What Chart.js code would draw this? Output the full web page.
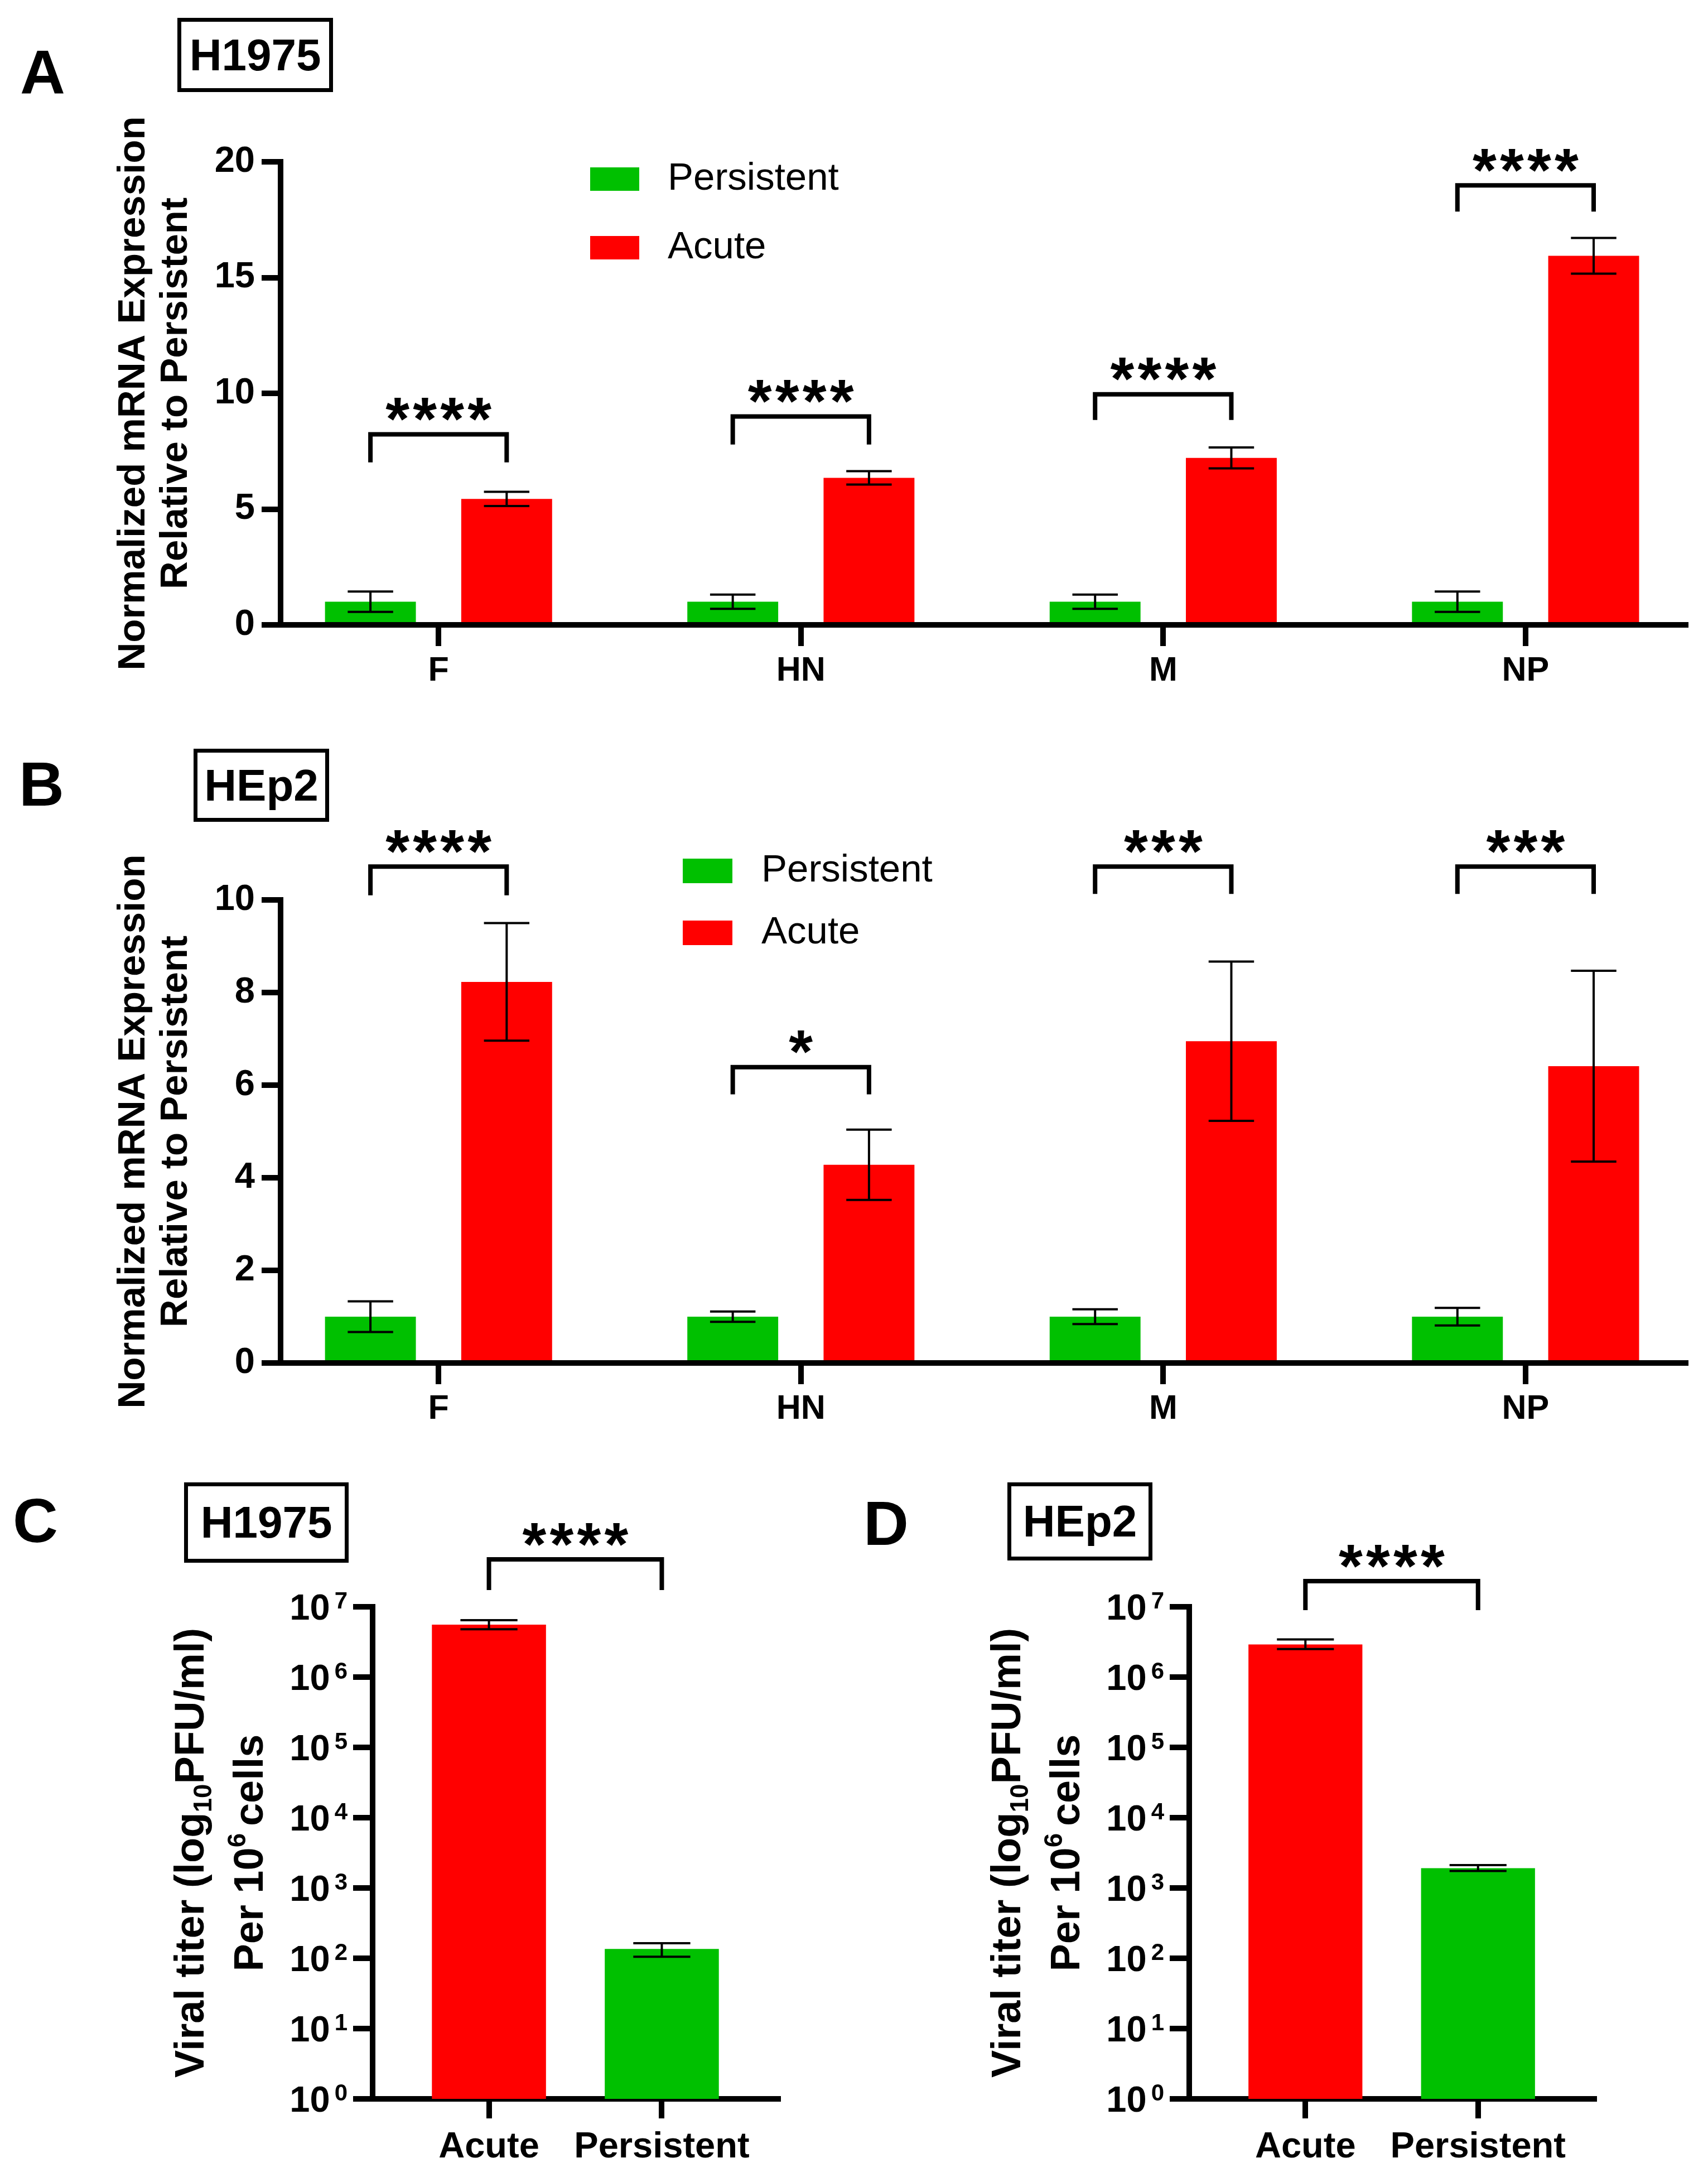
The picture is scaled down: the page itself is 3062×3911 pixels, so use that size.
<!DOCTYPE html>
<html>
<head>
<meta charset="utf-8">
<script src="https://cdn.jsdelivr.net/npm/chart.js@4.4.1/dist/chart.umd.min.js"></script>
<style>
html, body { margin: 0; padding: 0; background: #fff; }
body { width: 3062px; height: 3911px; position: relative; overflow: hidden; font-family: 'Liberation Sans', Arial, sans-serif; color: #000; }
.pane { position: absolute; }
.pane canvas { display: block; }
.letter { position: absolute; font-weight: bold; font-size: 112px; line-height: 1; }
.cell { position: absolute; border: 7px solid #000; box-sizing: border-box; font-weight: bold; font-size: 80px;
        display: flex; align-items: center; justify-content: center; }
</style>
</head>
<body>
<div class="letter" style="left:36px;top:74px">A</div>
<div class="cell" style="left:318px;top:32px;width:279px;height:133px">H1975</div>
<div class="letter" style="left:34px;top:1350px">B</div>
<div class="cell" style="left:347px;top:1342px;width:243px;height:131px">HEp2</div>
<div class="letter" style="left:23px;top:2670px">C</div>
<div class="cell" style="left:330px;top:2657px;width:295px;height:144px">H1975</div>
<div class="letter" style="left:1548px;top:2675px">D</div>
<div class="cell" style="left:1806px;top:2657px;width:260px;height:140px">HEp2</div>

<div class="pane" style="left:0;top:0"><canvas id="chartA" width="3062" height="1290"></canvas></div>
<div class="pane" style="left:0;top:1300px"><canvas id="chartB" width="3062" height="1300"></canvas></div>
<div class="pane" style="left:0;top:2640px"><canvas id="chartC" width="1500" height="1271"></canvas></div>
<div class="pane" style="left:1500px;top:2640px"><canvas id="chartD" width="1562" height="1271"></canvas></div>

<script>
// genes on the x axis of the qPCR panels
const geneLabels = ['F', 'HN', 'M', 'NP'];
const seriesNames = ['Persistent', 'Acute'];

// A: H1975 mRNA, mean and SD
const h1975Persistent = [1.0, 1.0, 1.0, 1.0];
const h1975PersistentSd = [0.44, 0.31, 0.31, 0.44];
const h1975Acute = [5.44, 6.35, 7.21, 15.94];
const h1975AcuteSd = [0.31, 0.29, 0.45, 0.77];
const h1975Stars = ['****', '****', '****', '****'];
const h1975BracketTop = [8.23, 9.0, 9.96, 18.98];
const h1975BracketLeg = [7.02, 7.79, 8.85, 17.85];
const h1975Ticks = [0, 5, 10, 15, 20];

// B: HEp2 mRNA
const hep2Persistent = [1.0, 1.0, 1.0, 1.0];
const hep2PersistentSd = [0.33, 0.11, 0.16, 0.19];
const hep2Acute = [8.23, 4.28, 6.95, 6.41];
const hep2AcuteSd = [1.27, 0.76, 1.72, 2.06];
const hep2Stars = ['****', '*', '***', '***'];
const hep2BracketTop = [10.72, 6.39, 10.72, 10.72];
const hep2BracketLeg = [10.1, 5.8, 10.13, 10.13];
const hep2Ticks = [0, 2, 4, 6, 8, 10];

// C, D: viral titers (PFU/ml per 10^6 cells)
const titerLabels = ['Acute', 'Persistent'];
const h1975Titer = [5.56e6, 136];
const h1975TiterLow = [4.8e6, 105];
const h1975TiterHigh = [6.46e6, 164];
const h1975TiterStars = '****';
const h1975TiterBracket = [4.73e7, 1.73e7];   // top, leg end
const hep2Titer = [2.91e6, 1910];
const hep2TiterLow = [2.5e6, 1745];
const hep2TiterHigh = [3.43e6, 2120];
const hep2TiterStars = '****';
const hep2TiterBracket = [2.32e7, 8.96e6];
const logTicks = [1, 10, 100, 1e3, 1e4, 1e5, 1e6, 1e7];

const GREEN = '#00c000';
const RED = '#ff0000';
const FONT = "'Liberation Sans', Arial, sans-serif";

Chart.defaults.font.family = FONT;
Chart.defaults.color = '#000';

// mean +/- error whiskers, caps half a bar wide
const errorBars = {
    id: 'errorBars',
    afterDatasetsDraw(chart) {
        const ctx = chart.ctx;
        const ys = chart.scales.y;
        chart.data.datasets.forEach((ds, di) => {
            chart.getDatasetMeta(di).data.forEach((bar, i) => {
                const top = ys.getPixelForValue(ds.errHigh[i]);
                const bot = ys.getPixelForValue(ds.errLow[i]);
                const half = bar.width * 0.25;
                ctx.save();
                ctx.strokeStyle = '#000';
                ctx.lineWidth = 4;
                ctx.beginPath();
                ctx.moveTo(bar.x, top); ctx.lineTo(bar.x, bot);
                ctx.moveTo(bar.x - half, top); ctx.lineTo(bar.x + half, top);
                ctx.moveTo(bar.x - half, bot); ctx.lineTo(bar.x + half, bot);
                ctx.stroke();
                ctx.restore();
            });
        });
    }
};

// significance brackets with stars
const brackets = {
    id: 'brackets',
    afterDraw(chart, args, opts) {
        const ctx = chart.ctx;
        const ys = chart.scales.y;
        (opts.items || []).forEach(b => {
            const x1 = chart.getDatasetMeta(b.a[0]).data[b.a[1]].x;
            const x2 = chart.getDatasetMeta(b.b[0]).data[b.b[1]].x;
            const yt = ys.getPixelForValue(b.top);
            const yl = ys.getPixelForValue(b.leg);
            ctx.save();
            ctx.strokeStyle = '#000';
            ctx.lineWidth = 8;
            ctx.lineJoin = 'miter';
            ctx.beginPath();
            ctx.moveTo(x1, yl); ctx.lineTo(x1, yt); ctx.lineTo(x2, yt); ctx.lineTo(x2, yl);
            ctx.stroke();
            ctx.fillStyle = '#000';
            ctx.font = 'bold 110px ' + FONT;
            ctx.textAlign = 'center';
            ctx.textBaseline = 'alphabetic';
            const n = b.label.length, pitch = 49, cx = (x1 + x2) / 2, cy = yt - 53;
            for (let k = 0; k < n; k++) {
                ctx.fillText('*', cx + (k - (n - 1) / 2) * pitch, cy + 0.57 * 110);
            }
            ctx.restore();
        });
    }
};

// square swatch legend placed inside the plot
const boxLegend = {
    id: 'boxLegend',
    afterDraw(chart, args, o) {
        if (o.x === undefined) return;
        const ctx = chart.ctx;
        ctx.save();
        chart.data.datasets.forEach((ds, i) => {
            const cy = o.y + i * o.gap;
            ctx.fillStyle = ds.backgroundColor;
            ctx.fillRect(o.x, cy - o.h / 2, o.w, o.h);
            ctx.fillStyle = '#000';
            ctx.font = o.size + 'px ' + FONT;
            ctx.textAlign = 'left';
            ctx.textBaseline = 'middle';
            ctx.fillText(ds.label, o.textX, cy);
        });
        ctx.restore();
    }
};

// 10^n tick labels for the log axis
const powerTicks = {
    id: 'powerTicks',
    afterDraw(chart, args, o) {
        if (!o.size) return;
        const ctx = chart.ctx;
        const ys = chart.scales.y;
        const right = chart.chartArea.left - o.gap;
        ctx.save();
        ctx.fillStyle = '#000';
        ys.ticks.forEach(t => {
            const y = ys.getPixelForValue(t.value);
            const e = String(Math.round(Math.log10(t.value)));
            ctx.font = 'bold ' + o.supSize + 'px ' + FONT;
            const ew = ctx.measureText(e).width;
            ctx.textAlign = 'left';
            ctx.textBaseline = 'alphabetic';
            ctx.fillText(e, right - ew, y + 3);
            ctx.font = 'bold ' + o.size + 'px ' + FONT;
            ctx.textAlign = 'right';
            ctx.fillText('10', right - ew - o.space, y + o.size * 0.36);
        });
        ctx.restore();
    }
};

// rotated axis title with sub/superscripts
const richTitle = {
    id: 'richTitle',
    afterDraw(chart, args, o) {
        if (!o.lines) return;
        const ctx = chart.ctx;
        const area = chart.chartArea;
        const cy = (area.top + area.bottom) / 2;
        const fontFor = s => 'bold ' + ((s.sub || s.sup) ? o.size * 0.62 : o.size) + 'px ' + FONT;
        o.lines.forEach((segs, li) => {
            ctx.save();
            ctx.translate(area.left + o.offsets[li], cy);
            ctx.rotate(-Math.PI / 2);
            let total = 0;
            segs.forEach(s => { ctx.font = fontFor(s); total += ctx.measureText(s.t).width; });
            let px = -total / 2;
            ctx.fillStyle = '#000';
            ctx.textAlign = 'left';
            ctx.textBaseline = 'alphabetic';
            segs.forEach(s => {
                ctx.font = fontFor(s);
                let dy = o.size * 0.36;
                if (s.sub) dy += o.size * 0.2;
                if (s.sup) dy -= o.size * 0.42;
                ctx.fillText(s.t, px, dy);
                px += ctx.measureText(s.t).width;
            });
            ctx.restore();
        });
    }
};

// linear index axis so the outer margins match the original plot
function axisX(labels, min, max, fontSize, tickLen, pad) {
    return {
        type: 'linear',
        offset: false,
        min: min,
        max: max,
        afterBuildTicks(s) { s.ticks = labels.map((l, i) => ({ value: i })); },
        grid: { display: true, offset: false, drawOnChartArea: false, drawTicks: true, tickLength: tickLen, color: '#000', lineWidth: 10 },
        border: { display: true, color: '#000', width: 10 },
        ticks: {
            font: { size: fontSize, weight: 'bold' }, color: '#000', padding: pad,
            maxRotation: 0, autoSkip: false,
            callback: v => labels[v]
        },
        afterFit(s) { s.height = 120; }
    };
}

function points(values) {
    return values.map((v, i) => ({ x: i, y: v }));
}

function qpcrChart(id, persistent, persistentSd, acute, acuteSd, ticks, stars, bTop, bLeg, pad, legend) {
    const items = stars.map((s, i) => ({ a: [0, i], b: [1, i], top: bTop[i], leg: bLeg[i], label: s }));
    return new Chart(document.getElementById(id), {
        type: 'bar',
        data: {
            datasets: [
                { label: seriesNames[0], data: points(persistent), backgroundColor: GREEN,
                  errLow: persistent.map((v, i) => v - persistentSd[i]), errHigh: persistent.map((v, i) => v + persistentSd[i]) },
                { label: seriesNames[1], data: points(acute), backgroundColor: RED,
                  errLow: acute.map((v, i) => v - acuteSd[i]), errHigh: acute.map((v, i) => v + acuteSd[i]) }
            ]
        },
        options: {
            responsive: false,
            animation: false,
            devicePixelRatio: 1,
            categoryPercentage: 0.752,
            barPercentage: 0.667,
            borderWidth: 0,
            layout: { padding: pad },
            plugins: {
                legend: { display: false },
                tooltip: { enabled: false },
                brackets: { items: items },
                boxLegend: legend
            },
            scales: {
                x: axisX(geneLabels, -0.436, 3.442, 61, 38, 9),
                y: {
                    min: ticks[0],
                    max: ticks[ticks.length - 1],
                    afterBuildTicks(s) { s.ticks = ticks.map(v => ({ value: v })); },
                    grid: { display: true, drawOnChartArea: false, drawTicks: true, tickLength: 34, color: '#000', lineWidth: 10 },
                    border: { display: true, color: '#000', width: 10 },
                    ticks: { font: { size: 65, weight: 'bold' }, color: '#000', padding: 12 },
                    title: {
                        display: true,
                        text: ['Normalized mRNA Expression', 'Relative to Persistent'],
                        font: { size: 69, weight: 'bold', lineHeight: 76 / 69 },
                        color: '#000',
                        padding: { top: 2, bottom: 0 }
                    },
                    afterFit(s) { s.width = 303; }
                }
            }
        },
        plugins: [errorBars, brackets, boxLegend]
    });
}

function titerChart(id, titer, low, high, stars, bracket, pad, yWidth) {
    return new Chart(document.getElementById(id), {
        type: 'bar',
        data: {
            datasets: [
                { label: 'Titer', data: points(titer), backgroundColor: [RED, GREEN], errLow: low, errHigh: high }
            ]
        },
        options: {
            responsive: false,
            animation: false,
            devicePixelRatio: 1,
            categoryPercentage: 1,
            barPercentage: 0.66,
            borderWidth: 0,
            layout: { padding: pad },
            plugins: {
                legend: { display: false },
                tooltip: { enabled: false },
                brackets: { items: [{ a: [0, 0], b: [0, 1], top: bracket[0], leg: bracket[1], label: stars }] },
                powerTicks: { size: 65, supSize: 42, gap: 45, space: 8 },
                richTitle: {
                    size: 74,
                    offsets: [-330, -224],
                    lines: [
                        [{ t: 'Viral titer (log' }, { t: '10', sub: true }, { t: 'PFU/ml)' }],
                        [{ t: 'Per 10' }, { t: '6 ', sup: true }, { t: 'cells' }]
                    ]
                }
            },
            scales: {
                x: axisX(titerLabels, -0.673, 1.673, 65, 35, 13),
                y: {
                    type: 'logarithmic',
                    min: logTicks[0],
                    max: logTicks[logTicks.length - 1],
                    afterBuildTicks(s) { s.ticks = logTicks.map(v => ({ value: v })); },
                    grid: { display: true, drawOnChartArea: false, drawTicks: true, tickLength: 35, color: '#000', lineWidth: 10 },
                    border: { display: true, color: '#000', width: 10 },
                    ticks: { display: false },
                    afterFit(s) { s.width = yWidth; }
                }
            }
        },
        plugins: [errorBars, brackets, powerTicks, richTitle]
    });
}

qpcrChart('chartA', h1975Persistent, h1975PersistentSd, h1975Acute, h1975AcuteSd, h1975Ticks,
    h1975Stars, h1975BracketTop, h1975BracketLeg,
    { left: 200, right: 40, top: 290, bottom: 50 },
    { x: 1058, y: 321, w: 88, h: 42, gap: 123, textX: 1197, size: 69 });

qpcrChart('chartB', hep2Persistent, hep2PersistentSd, hep2Acute, hep2AcuteSd, hep2Ticks,
    hep2Stars, hep2BracketTop, hep2BracketLeg,
    { left: 200, right: 40, top: 313, bottom: 37 },
    { x: 1224, y: 261, w: 89, h: 44, gap: 111, textX: 1365, size: 69 });

titerChart('chartC', h1975Titer, h1975TiterLow, h1975TiterHigh, h1975TiterStars, h1975TiterBracket,
    { left: 400, right: 105, top: 240, bottom: 29 }, 268);

titerChart('chartD', hep2Titer, hep2TiterLow, hep2TiterHigh, hep2TiterStars, hep2TiterBracket,
    { left: 365, right: 204, top: 240, bottom: 29 }, 267);
</script>
</body>
</html>
